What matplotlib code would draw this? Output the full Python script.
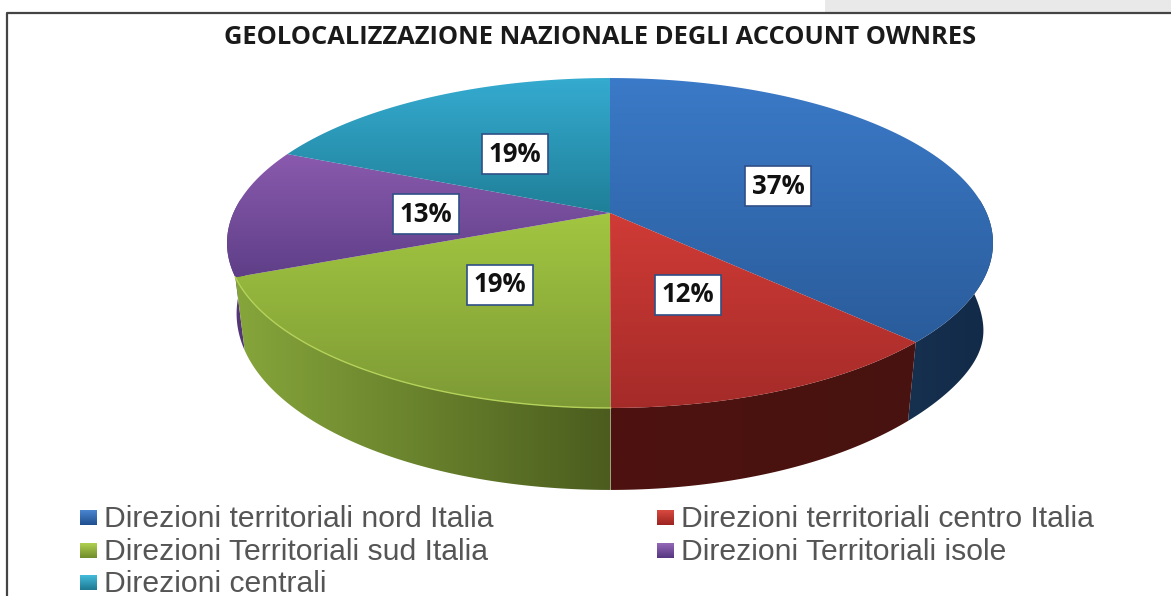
import numpy as np
from matplotlib import pyplot as plt
from matplotlib.colors import to_rgb
from matplotlib.patches import Polygon, Rectangle

title = "GEOLOCALIZZAZIONE NAZIONALE DEGLI ACCOUNT OWNRES"
categories = [
    "Direzioni territoriali nord Italia",
    "Direzioni territoriali centro Italia",
    "Direzioni Territoriali sud Italia",
    "Direzioni Territoriali isole",
    "Direzioni centrali",
]
# shares, they round to the printed labels
shares = [37.49, 12.49, 18.9, 12.6, 18.52]

# top colour, bottom colour of each top face
top_colors = [("#3b7ac8", "#2a5c9b"), ("#d03b36", "#a52b29"), ("#a2c641", "#7d9a35"),
              ("#8a5aae", "#5f3f88"), ("#35abd0", "#1f7f98")]
# left colour, right colour of each side face
side_colors = [("#16304f", "#122a48"), ("#4e130f", "#471210"), ("#86a63b", "#4b5c1e"),
               ("#5a3a80", "#4f3272"), ("#1f7f98", "#1f7f98")]
legend_colors = [("#4a86d0", "#1f4f8f"), ("#d84a40", "#9c2320"), ("#b0d050", "#6f8c2c"),
                 ("#9468b8", "#553680"), ("#45bcdc", "#1c7890")]

label_pos = [(778, 186), (688, 295), (500, 285), (426, 214), (515, 154)]
legend_pos = [(80, 517), (657, 517), (80, 550), (657, 550), (80, 582)]

W, H = 1171, 596
CX, CY = 610, 213
RX, RY, PERSP = 376.6, 159.5, 0.1818
SIDE_SCALE = 0.975


def project(theta, lower=False):
    # theta in radians, 0 at the back of the pie, growing clockwise
    den = 1 + PERSP * np.cos(theta)
    x = RX * np.sin(theta) / den
    y = -RY * np.cos(theta) / den
    if lower:
        # the right flank of the reference hangs a bit lower than the left one
        bulge = 20 * np.clip(np.sin(theta), 0, 1) ** 10
        return CX + SIDE_SCALE * x, CY + y + 68 - 14 * np.cos(theta) + bulge
    return CX + x, CY + y


def gradient_fill(ax, xs, ys, c0, c1, horizontal=False, zorder=2):
    x0, x1, y0, y1 = min(xs), max(xs), min(ys), max(ys)
    t = np.linspace(0, 1, 256)[:, None]
    img = (1 - t) * np.array(to_rgb(c0)) + t * np.array(to_rgb(c1))
    img = img[None, :, :] if horizontal else img[:, None, :]
    im = ax.imshow(img, extent=(x0, x1, y1, y0), aspect="auto", zorder=zorder, interpolation="bilinear")
    poly = Polygon(np.column_stack([xs, ys]), closed=True, transform=ax.transData, fc="none", ec="none")
    ax.add_patch(poly)
    im.set_clip_path(poly)


plt.rcParams["font.family"] = ["Open Sans", "DejaVu Sans"]
fig = plt.figure(figsize=(W / 100, H / 100), dpi=100)
ax = fig.add_axes([0, 0, 1, 1])
ax.set_axis_off()

# frame and the grey strip of the page behind it
ax.add_patch(Rectangle((825, 0), W - 825, 12, fc="#e9e9e9", ec="none", zorder=0))
ax.plot([7, 7, W], [H, 12.5, 12.5], color="#444444", lw=1.6, zorder=1)

edges = np.cumsum([0] + shares) / sum(shares) * 2 * np.pi
front = (np.radians(85), np.radians(275))

# side faces
for i in [3, 2, 0, 1]:
    a = max(edges[i], front[0])
    b = min(edges[i + 1], front[1])
    t = np.linspace(a, b, 100)
    xt, yt = project(t)
    xl, yl = project(t[::-1], lower=True)
    gradient_fill(ax, np.r_[xt, xl], np.r_[yt, yl], *side_colors[i], horizontal=True, zorder=2)

# top faces
for i in range(len(shares)):
    t = np.linspace(edges[i], edges[i + 1], 120)
    xt, yt = project(t)
    xs = np.r_[CX, xt]
    ys = np.r_[CY, yt]
    gradient_fill(ax, xs, ys, *top_colors[i], zorder=3)

# thin highlight along the front rim of the green slice
t = np.linspace(edges[2], edges[3], 120)
ax.plot(*project(t), color="#b4d25a", lw=1.0, zorder=4)

for i, share in enumerate(shares):
    x, y = label_pos[i]
    ax.text(x, y, "%d%%" % round(share), ha="center", va="center", fontsize=18.5, fontweight="bold",
            color="#111111", zorder=5,
            bbox=dict(boxstyle="square,pad=0.26", fc="white", ec="#2f4f86", lw=1.2))

ax.text(600, 38, title, ha="center", va="center", fontsize=18.35, fontweight="bold", color="#1a1a1a")

for (x, y), name, (c0, c1) in zip(legend_pos, categories, legend_colors):
    xs = [x, x + 17, x + 17, x]
    ys = [y - 7, y - 7, y + 8, y + 8]
    gradient_fill(ax, xs, ys, c0, c1, zorder=3)
    ax.text(x + 24, y + 2, name, ha="left", va="center", fontsize=21.7, color="#555555",
            family=["Liberation Sans", "DejaVu Sans"])

ax.set_xlim(0, W)
ax.set_ylim(H, 0)
fig.savefig("out.png", dpi=100, facecolor="white")
